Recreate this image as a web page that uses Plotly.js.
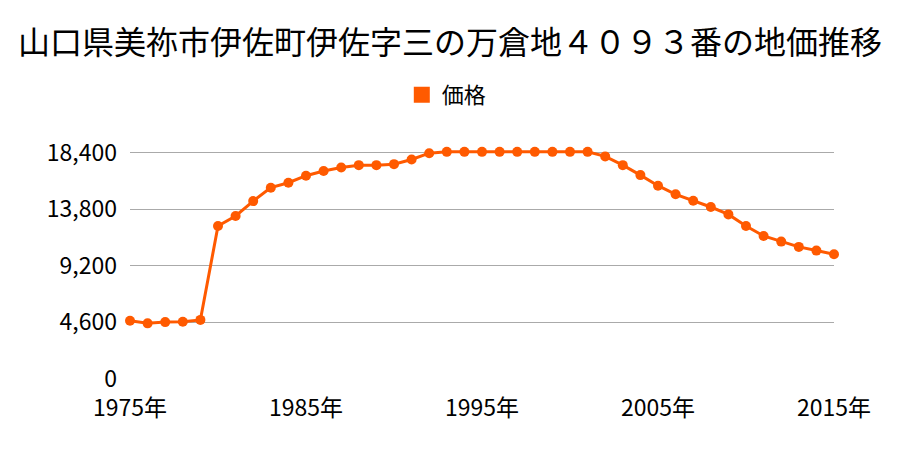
<!DOCTYPE html>
<html>
<head>
<meta charset="utf-8">
<script src="https://cdn.plot.ly/plotly-3.0.1.min.js"></script>
<style>body{margin:0;background:#fff}#chart{width:900px;height:450px}</style>
</head>
<body>
<div id="chart"></div>
<script>
var years = [1975,1976,1977,1978,1979,1980,1981,1982,1983,1984,1985,1986,1987,1988,1989,1990,
  1991,1992,1993,1994,1995,1996,1997,1998,1999,2000,2001,2002,2003,2004,2005,2006,2007,2008,
  2009,2010,2011,2012,2013,2014,2015];
var prices = [4730,4520,4620,4650,4800,12430,13240,14450,15540,15940,16510,16890,17180,17370,17370,17450,
  17830,18340,18450,18450,18450,18450,18450,18450,18450,18450,18450,18080,17370,16560,15700,15000,14480,13970,
  13370,12430,11620,11160,10730,10430,10130];
var yTicks = [0,4600,9200,13800,18400];
var yTickText = ['0','4,600','9,200','13,800','18,400'];
var xTicks = [1975,1985,1995,2005,2015];
var xTickText = ['1975年','1985年','1995年','2005年','2015年'];

var CHART = document.getElementById('chart');
var orange = '#ff5a00';
var trace = {
  x: years, y: prices, type: 'scatter', mode: 'lines+markers', name: '価格',
  line: {color: orange, width: 3},
  marker: {color: orange, size: 10},
  cliponaxis: false, showlegend: false
};
// legend entry only (square swatch)
var legendTrace = {
  x: [null], y: [null], type: 'scatter', mode: 'markers', name: '価格',
  marker: {color: orange, size: 16, symbol: 'square'}, hoverinfo: 'skip'
};
var layout = {
  width: 900, height: 450,
  margin: {l: 130, r: 66, t: 150, b: 71},
  font: {family: '"Noto Sans CJK JP", sans-serif', size: 22, color: '#000'},
  title: {text: '山口県美祢市伊佐町伊佐字三の万倉地４０９３番の地価推移', x: 0.5, xanchor: 'center',
    y: 0.904, yanchor: 'middle', font: {size: 32, color: '#000'}},
  showlegend: true,
  legend: {orientation: 'h', x: 0.45, xanchor: 'center', y: 1.24, yanchor: 'middle',
    itemsizing: 'trace', font: {size: 22}},
  xaxis: {range: [1975, 2015], tickvals: xTicks, ticktext: xTickText, showgrid: false, zeroline: false,
    showline: false, ticks: '', ticklabelstandoff: 13, tickfont: {size: 23}},
  yaxis: {range: [0, 18600], tickvals: yTicks, ticktext: yTickText, showgrid: true, gridcolor: '#aaaaaa',
    gridwidth: 1, zeroline: false, ticks: '', ticklabelstandoff: 12, tickfont: {size: 23}},
  plot_bgcolor: '#fff', paper_bgcolor: '#fff'
};
Plotly.newPlot(CHART, [trace, legendTrace], layout, {displayModeBar: false});
</script>
</body>
</html>
